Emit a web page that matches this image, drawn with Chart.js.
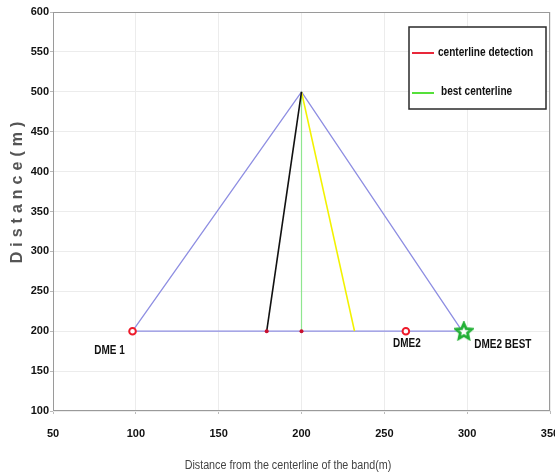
<!DOCTYPE html>
<html>
<head>
<meta charset="utf-8">
<script src="https://cdn.jsdelivr.net/npm/chart.js@4"></script>
<style>
html,body{margin:0;padding:0;background:#fff;}
#wrap{width:555px;height:474px;position:relative;}
</style>
</head>
<body>
<div id="wrap"><canvas id="c" width="555" height="474"></canvas></div>
<script>
// ---- data ----
const xTicks = [50, 100, 150, 200, 250, 300, 350];
const yTicks = [100, 150, 200, 250, 300, 350, 400, 450, 500, 550, 600];
const triangleX = [98, 200, 297, 98];
const triangleY = [200, 500, 200, 200];
const detectLineX = [200, 179];
const detectLineY = [500, 200];
const bestLineX = [200, 200];
const bestLineY = [500, 200];
const yellowLineX = [200, 232];
const yellowLineY = [500, 200];
const footX = [179, 200];
const footY = [200, 200];
const dmeNames = ['DME 1', 'DME2'];
const dmeX = [98, 263];
const dmeY = [200, 200];
const bestName = 'DME2 BEST';
const bestX = [298];
const bestY = [200];
const legendNames = ['centerline detection', 'best centerline'];
const xTitle = 'Distance from the centerline of the band(m)';
const yTitle = 'Distance(m)';

const pts = (xs, ys) => xs.map((x, i) => ({x: x, y: ys[i]}));

// star image for the best point
const starImg = document.createElement('canvas');
starImg.width = 20; starImg.height = 20;
(function(){
  const g = starImg.getContext('2d');
  g.beginPath();
  for (let i = 0; i < 10; i++) {
    const r = i % 2 === 0 ? 8.2 : 3.8;
    const a = -Math.PI / 2 + i * Math.PI / 5;
    const px = 10 + r * Math.cos(a), py = 10.5 + r * Math.sin(a);
    if (i === 0) g.moveTo(px, py); else g.lineTo(px, py);
  }
  g.closePath();
  g.fillStyle = '#ffffff';
  g.fill();
  g.lineWidth = 2.8;
  g.strokeStyle = '#22b035';
  g.lineJoin = 'miter';
  g.stroke();
})();

const FONT = '"Liberation Sans", Arial, sans-serif';

// draws text squeezed horizontally to mimic a narrow face
function narrowText(ctx, txt, x, y, sx, align) {
  ctx.save();
  ctx.translate(x, y);
  ctx.scale(sx, 1);
  ctx.textAlign = align;
  ctx.fillText(txt, 0, 0);
  ctx.restore();
}

const deco = {
  id: 'deco',
  afterDraw(chart) {
    const ctx = chart.ctx;
    const a = chart.chartArea;
    const xs = chart.scales.x, ys = chart.scales.y;
    ctx.save();
    // frame
    ctx.strokeStyle = '#9a9a9a';
    ctx.lineWidth = 1;
    ctx.strokeRect(a.left + 0.5, a.top + 0.5, a.right - a.left - 1, a.bottom - a.top - 1);
    // annotations
    ctx.fillStyle = '#111';
    ctx.font = 'bold 12px ' + FONT;
    ctx.textBaseline = 'middle';
    narrowText(ctx, dmeNames[0], xs.getPixelForValue(dmeX[0]) - 23, ys.getPixelForValue(dmeY[0]) + 19, 0.83, 'center');
    narrowText(ctx, dmeNames[1], xs.getPixelForValue(dmeX[1]) + 1, ys.getPixelForValue(dmeY[1]) + 12, 0.83, 'center');
    narrowText(ctx, bestName, xs.getPixelForValue(bestX[0]) + 39, ys.getPixelForValue(bestY[0]) + 13, 0.83, 'center');
    // legend
    ctx.fillStyle = '#fff';
    ctx.fillRect(409, 27, 137, 82);
    ctx.strokeStyle = '#2a2a2a';
    ctx.lineWidth = 1.5;
    ctx.strokeRect(409, 27, 137, 82);
    ctx.lineWidth = 2;
    ctx.strokeStyle = '#e8283a';
    ctx.beginPath(); ctx.moveTo(412, 53); ctx.lineTo(434, 53); ctx.stroke();
    ctx.strokeStyle = '#55e03a';
    ctx.beginPath(); ctx.moveTo(412, 93); ctx.lineTo(434, 93); ctx.stroke();
    ctx.fillStyle = '#111';
    ctx.font = 'bold 12px ' + FONT;
    narrowText(ctx, legendNames[0], 438, 53, 0.84, 'left');
    narrowText(ctx, legendNames[1], 441, 92, 0.84, 'left');
    // axis titles
    ctx.fillStyle = '#444';
    ctx.font = '12.5px ' + FONT;
    narrowText(ctx, xTitle, 288, 466, 0.86, 'center');
    ctx.save();
    ctx.translate(18, 192);
    ctx.rotate(-Math.PI / 2);
    ctx.fillStyle = '#555';
    ctx.textAlign = 'center';
    ctx.font = 'bold 16px ' + FONT;
    try { ctx.letterSpacing = '5px'; } catch (e) {}
    ctx.fillText(yTitle, 2, 0);
    ctx.restore();
    ctx.restore();
  }
};

new Chart(document.getElementById('c'), {
  type: 'scatter',
  data: {
    datasets: [
      { data: pts(triangleX, triangleY), showLine: true, borderColor: '#8e8ee2', borderWidth: 1.3, pointRadius: 0, order: 5 },
      { data: pts(bestLineX, bestLineY), showLine: true, borderColor: '#8fe68f', borderWidth: 1.2, pointRadius: 0, order: 4 },
      { data: pts(detectLineX, detectLineY), showLine: true, borderColor: '#111111', borderWidth: 1.6, pointRadius: 0, order: 3 },
      { data: pts(yellowLineX, yellowLineY), showLine: true, borderColor: '#f2f200', borderWidth: 1.6, pointRadius: 0, order: 3 },
      { data: pts(footX, footY), showLine: false, pointRadius: 2, pointBackgroundColor: '#c8102e', pointBorderColor: '#c8102e', pointBorderWidth: 0, order: 2 },
      { data: pts(dmeX, dmeY), showLine: false, pointRadius: 3.3, pointBackgroundColor: '#ffffff', pointBorderColor: '#ee1a2a', pointBorderWidth: 2, order: 1 },
      { data: pts(bestX, bestY), showLine: false, pointStyle: starImg, pointRadius: 10, order: 0 }
    ]
  },
  options: {
    responsive: false,
    animation: false,
    events: [],
    layout: { autoPadding: false, padding: { top: 12, right: 5, left: 0, bottom: 0 } },
    plugins: { legend: { display: false }, tooltip: { enabled: false } },
    scales: {
      x: {
        type: 'linear', min: xTicks[0], max: xTicks[xTicks.length - 1],
        afterBuildTicks(s) { s.ticks = xTicks.map(v => ({value: v})); },
        afterFit(s) { s.height = 63; s.paddingLeft = 0; s.paddingRight = 0; },
        grid: { color: '#ececec', lineWidth: 1, tickLength: 3, drawTicks: true, tickColor: '#bbb' },
        border: { display: false },
        ticks: { color: '#111', padding: 13, maxRotation: 0, autoSkip: false, font: { family: FONT, size: 11, weight: 'bold' } }
      },
      y: {
        type: 'linear', min: yTicks[0], max: yTicks[yTicks.length - 1],
        afterBuildTicks(s) { s.ticks = yTicks.map(v => ({value: v})); },
        afterFit(s) { s.width = 53; s.paddingTop = 0; s.paddingBottom = 0; },
        grid: { color: '#ececec', lineWidth: 1, tickLength: 3, drawTicks: true, tickColor: '#bbb' },
        border: { display: false },
        ticks: { color: '#111', padding: 1, autoSkip: false, font: { family: FONT, size: 11, weight: 'bold' } }
      }
    }
  },
  plugins: [deco]
});
</script>
</body>
</html>
